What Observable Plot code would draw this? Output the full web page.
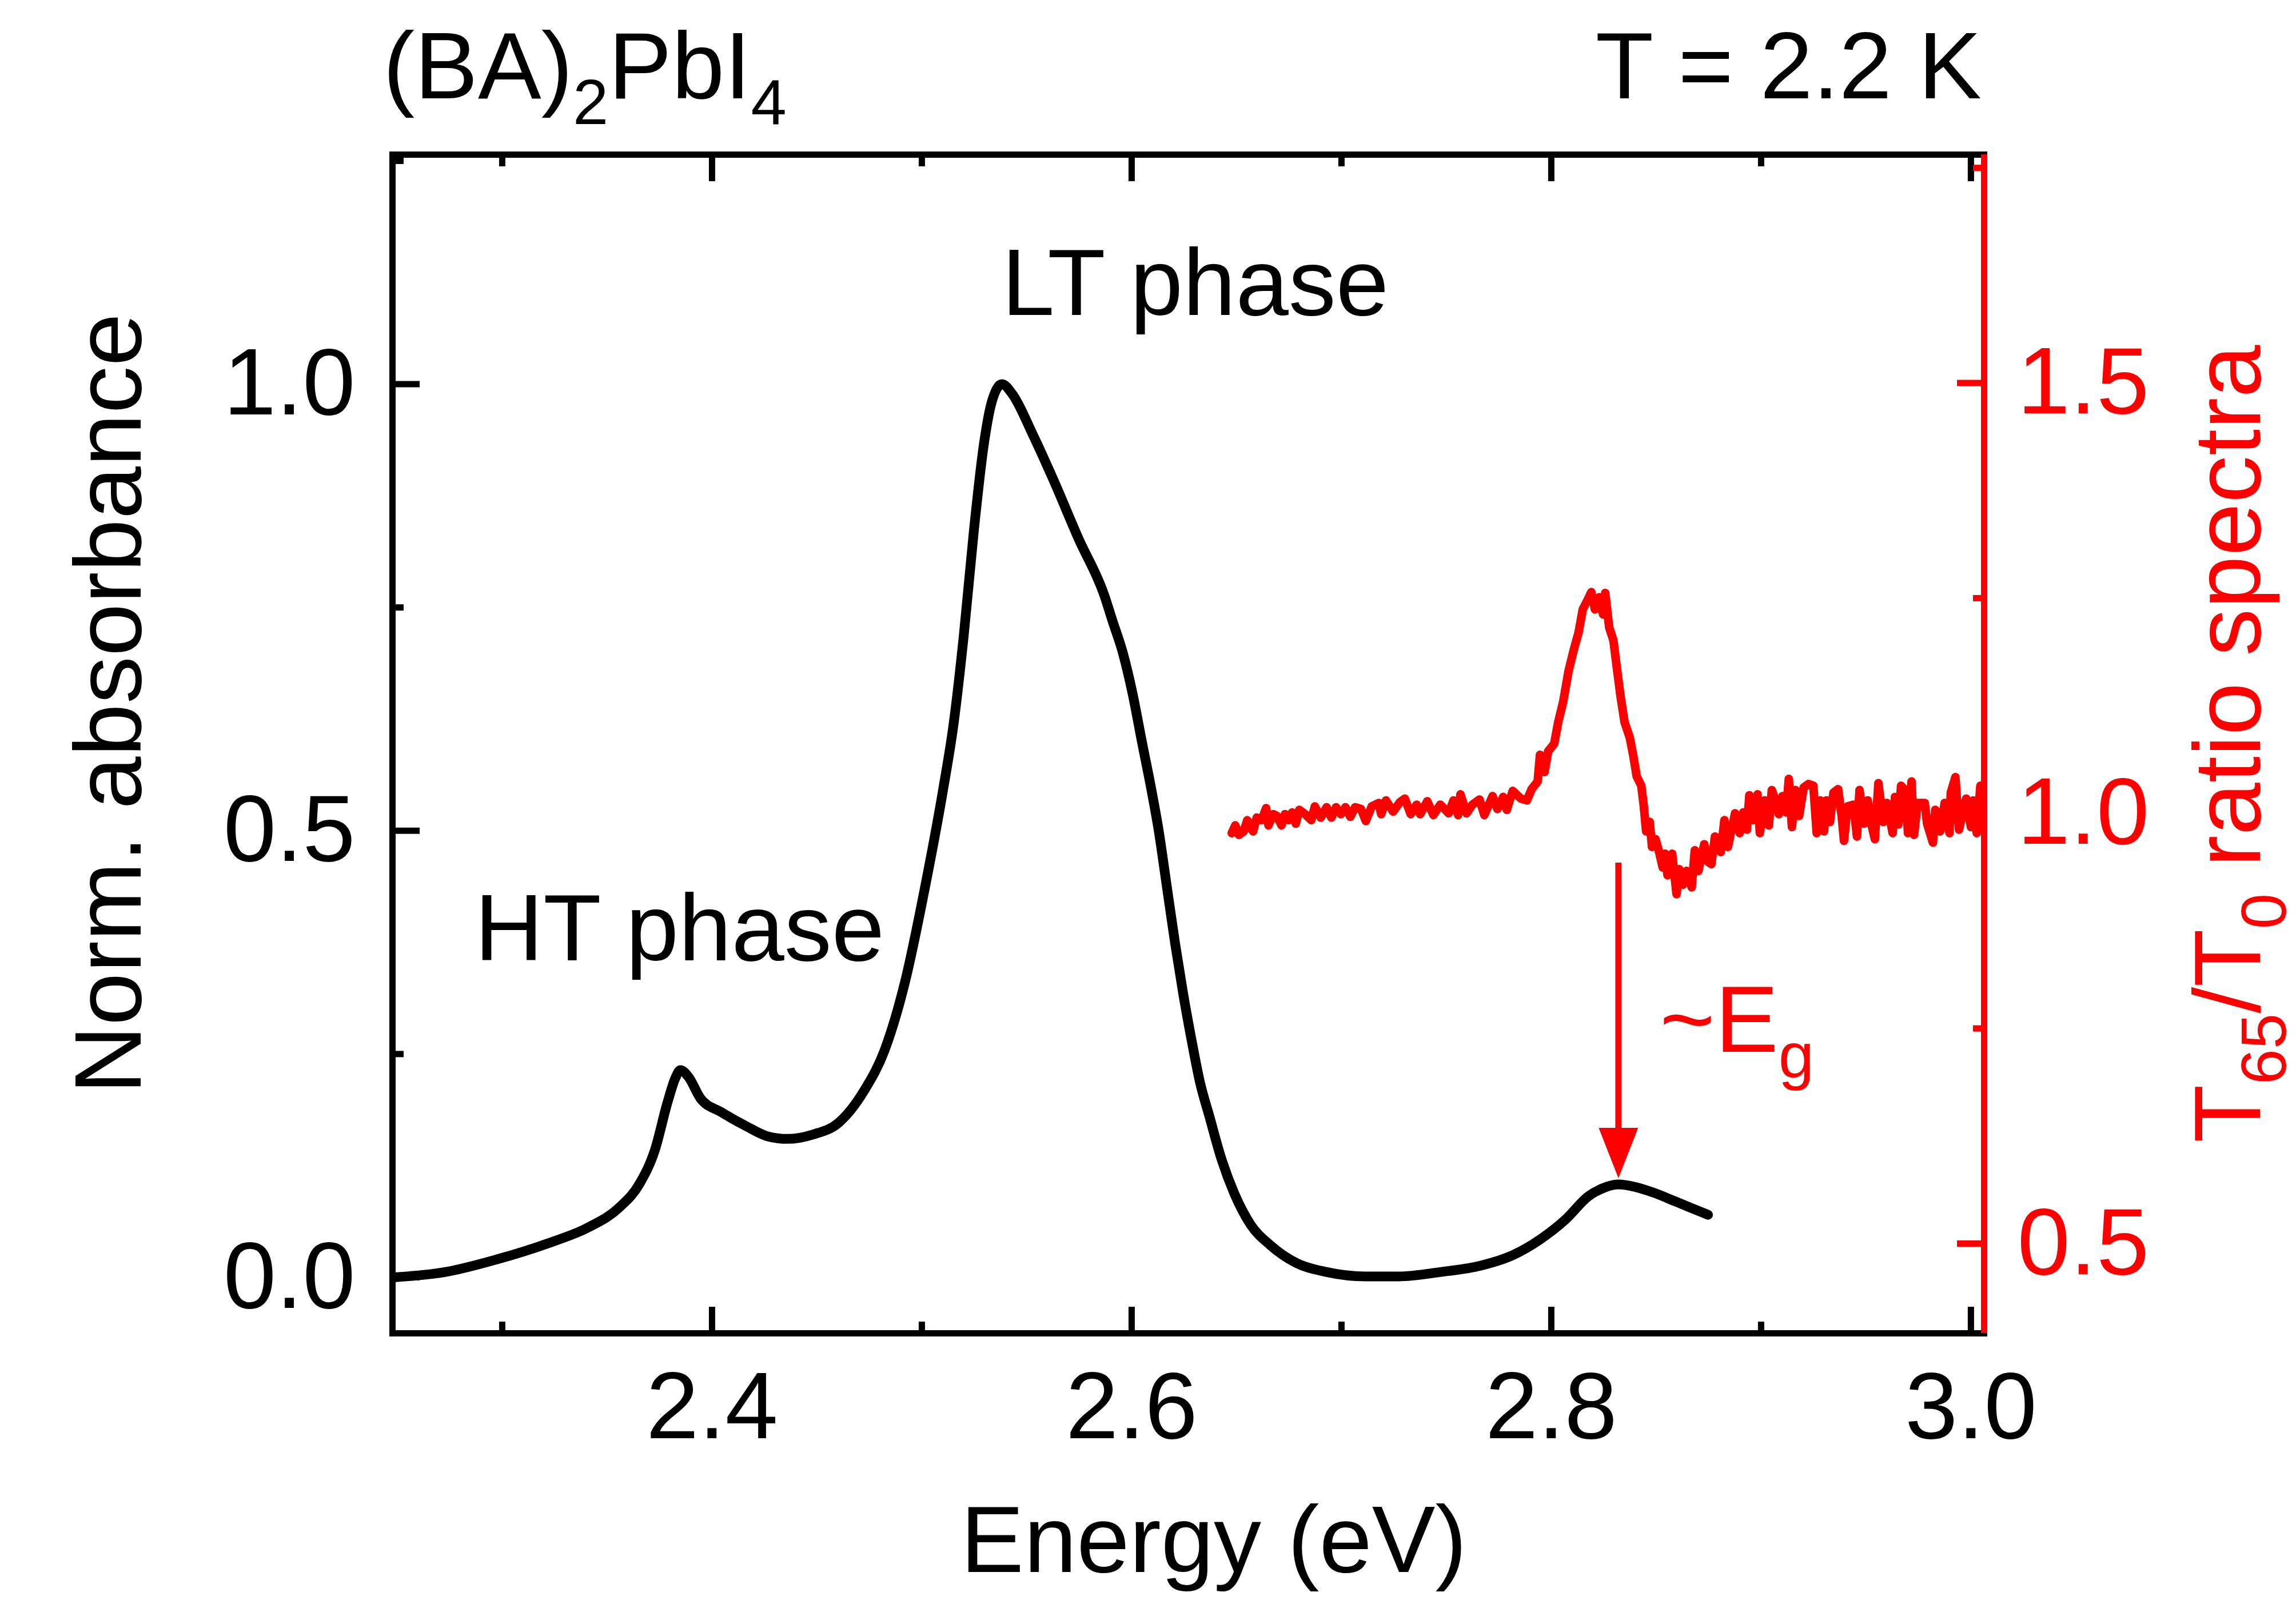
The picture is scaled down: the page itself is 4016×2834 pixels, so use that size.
<!DOCTYPE html>
<html>
<head>
<meta charset="utf-8">
<script src="https://cdn.jsdelivr.net/npm/d3@7"></script>
<script src="https://cdn.jsdelivr.net/npm/@observablehq/plot@0.6"></script>
<style>
  html, body { margin: 0; padding: 0; background: #fff; }
  svg { display: block; }
</style>
</head>
<body>
<div id="chart"></div>
<script>
// ---- data ----
// Norm. absorbance (left axis): [energy eV, value]
const absorbance = [
  [2.2487,0.000],[2.2730,0.006],[2.2973,0.020],[2.3217,0.038],[2.3411,0.056],[2.3557,0.078],
  [2.3655,0.105],[2.3727,0.142],[2.3788,0.196],[2.3825,0.223],[2.3849,0.232],[2.3886,0.225],
  [2.3946,0.200],[2.4044,0.185],[2.4165,0.169],[2.4263,0.158],[2.4360,0.155],[2.4482,0.160],
  [2.4603,0.173],[2.4725,0.209],[2.4822,0.254],[2.4920,0.331],[2.5017,0.439],[2.5102,0.547],
  [2.5151,0.619],[2.5200,0.719],[2.5248,0.836],[2.5297,0.935],[2.5333,0.980],[2.5382,1.000],
  [2.5431,0.989],[2.5528,0.944],[2.5625,0.894],[2.5747,0.827],[2.5869,0.764],[2.5910,0.734],
  [2.5957,0.700],[2.6004,0.654],[2.6051,0.597],[2.6090,0.551],[2.6129,0.500],[2.6168,0.437],
  [2.6207,0.374],[2.6246,0.317],[2.6286,0.265],[2.6325,0.219],[2.6372,0.179],[2.6426,0.134],
  [2.6489,0.094],[2.6567,0.059],[2.6661,0.036],[2.6786,0.016],[2.6927,0.006],[2.7115,0.001],
  [2.7271,0.001],[2.7474,0.006],[2.7662,0.013],[2.7818,0.025],[2.7944,0.042],[2.8069,0.065],
  [2.8178,0.091],[2.8238,0.099],[2.8319,0.104],[2.8403,0.101],[2.8485,0.095],[2.8591,0.085],
  [2.8695,0.075],[2.8747,0.070]
];

// T65/T0 ratio spectra (right axis): [energy eV, ratio]
const ratioSpectrum = [
  [2.6477,0.977],[2.6494,0.986],[2.6511,0.975],[2.6534,0.979],[2.6551,0.992],[2.6568,0.984],
  [2.6579,0.979],[2.6596,0.995],[2.6619,0.992],[2.6641,1.006],[2.6652,0.986],[2.6675,0.999],
  [2.6692,0.997],[2.6714,0.986],[2.6731,0.999],[2.6748,0.992],[2.6765,1.001],[2.6782,0.988],
  [2.6799,1.004],[2.6827,0.999],[2.6856,0.992],[2.6873,1.008],[2.6901,0.995],[2.6929,1.007],
  [2.6952,0.995],[2.6974,1.007],[2.6997,0.999],[2.7019,1.007],[2.7042,0.996],[2.7065,1.007],
  [2.7093,1.005],[2.7116,0.991],[2.7144,1.008],[2.7178,1.012],[2.7189,0.999],[2.7212,1.015],
  [2.7246,1.002],[2.7279,1.013],[2.7302,1.017],[2.7330,0.999],[2.7358,1.010],[2.7375,0.999],
  [2.7409,1.014],[2.7438,0.998],[2.7471,1.010],[2.7511,1.000],[2.7534,1.015],[2.7556,0.998],
  [2.7567,1.022],[2.7596,1.000],[2.7624,1.010],[2.7658,1.016],[2.7681,0.998],[2.7720,1.020],
  [2.7743,1.005],[2.7771,1.019],[2.7788,1.004],[2.7816,1.026],[2.7856,1.017],[2.7884,1.015],
  [2.7906,1.028],[2.7935,1.037],[2.7946,1.068],[2.7968,1.048],[2.7985,1.072],[2.8014,1.081],
  [2.8033,1.106],[2.8057,1.130],[2.8082,1.165],[2.8106,1.189],[2.8130,1.210],[2.8150,1.237],
  [2.8167,1.245],[2.8191,1.257],[2.8208,1.237],[2.8228,1.251],[2.8247,1.231],[2.8257,1.256],
  [2.8276,1.216],[2.8296,1.201],[2.8313,1.168],[2.8330,1.136],[2.8349,1.106],[2.8374,1.088],
  [2.8390,1.068],[2.8407,1.043],[2.8429,1.032],[2.8441,1.008],[2.8452,0.979],[2.8469,0.990],
  [2.8480,0.961],[2.8497,0.970],[2.8514,0.955],[2.8531,0.937],[2.8542,0.953],[2.8554,0.928],
  [2.8576,0.953],[2.8588,0.926],[2.8597,0.906],[2.8610,0.935],[2.8627,0.917],[2.8644,0.933],
  [2.8669,0.914],[2.8684,0.957],[2.8701,0.933],[2.8729,0.964],[2.8746,0.944],[2.8763,0.941],
  [2.8780,0.973],[2.8808,0.955],[2.8825,0.992],[2.8842,0.961],[2.8859,0.981],[2.8876,1.000],
  [2.8898,0.977],[2.8915,1.001],[2.8932,0.981],[2.8944,1.021],[2.8960,0.992],[2.8983,1.022],
  [2.8994,0.977],[2.9017,1.015],[2.9037,0.986],[2.9051,1.027],[2.9073,1.012],[2.9085,0.999],
  [2.9102,1.020],[2.9119,1.001],[2.9132,1.040],[2.9147,0.984],[2.9164,1.027],[2.9181,0.997],
  [2.9203,1.030],[2.9226,1.034],[2.9249,1.032],[2.9265,0.977],[2.9282,1.015],[2.9300,0.979],
  [2.9311,1.015],[2.9328,0.990],[2.9345,1.024],[2.9367,1.028],[2.9384,0.997],[2.9395,0.968],
  [2.9412,1.008],[2.9440,1.010],[2.9457,0.973],[2.9469,1.027],[2.9491,0.988],[2.9508,1.015],
  [2.9525,0.988],[2.9542,0.970],[2.9559,1.035],[2.9582,0.990],[2.9599,1.012],[2.9627,0.977],
  [2.9638,1.019],[2.9655,0.987],[2.9667,1.032],[2.9689,1.026],[2.9700,0.977],[2.9717,1.037],
  [2.9729,0.975],[2.9746,1.012],[2.9780,1.012],[2.9791,0.988],[2.9819,0.966],[2.9830,1.004],
  [2.9853,0.979],[2.9875,1.012],[2.9898,0.977],[2.9904,1.024],[2.9926,1.042],[2.9943,0.981],
  [2.9977,1.017],[3.0000,0.984],[3.0011,1.015],[3.0028,0.977],[3.0045,1.032]
];

const xMajorTicks = [2.4, 2.6, 2.8, 3.0];
const xMinorTicks = [2.3, 2.5, 2.7, 2.9];
const leftMajorTicks = [0.0, 0.5, 1.0];
const leftMinorTicks = [0.25, 0.75, 1.25];
const rightMajorTicks = [0.5, 1.0, 1.5];
const rightMinorTicks = [0.75, 1.25, 1.75];

const phaseLabels = [
  {text: "HT phase", energy: 2.2869, value: 0.3547},
  {text: "LT phase", energy: 2.5381, value: 1.0775}
];
const gapArrow = {energy: 2.832, top: 0.464, base: 0.167, tip: 0.111};
const gapLabel = {energy: 2.8518, value: 0.252};

const xDomain = [2.2477, 3.0063];
const yDomain = [-0.0627, 1.257];
// right axis (T65/T0) expressed in left-axis units
const rightToLeft = r => 0.0378 + (r - 0.5) * 0.9635;
const leftToRight = v => 0.5 + (v - 0.0378) / 0.9635;

const FONT = "'Liberation Sans', Arial, Helvetica, sans-serif";
const FS = 166;
const fmt = d3.format(".1f");

// downward filled arrow head, tip at the origin
const arrowHead = {
  draw(context) {
    context.moveTo(0, 0);
    context.lineTo(-34.5, -88);
    context.lineTo(34.5, -88);
    context.closePath();
  }
};

const plot = Plot.plot({
  width: 4016,
  height: 2834,
  marginTop: 270,
  marginBottom: 502,
  marginLeft: 686,
  marginRight: 546,
  style: {fontFamily: FONT, fontSize: FS + "px", background: "white", overflow: "visible"},
  x: {domain: xDomain, label: null},
  y: {domain: yDomain, label: null},
  marks: [
    Plot.frame({stroke: "black", strokeWidth: 11}),
    // bottom x axis
    Plot.axisX(xMajorTicks, {anchor: "bottom", tickSize: -46, tickPadding: 112, strokeWidth: 11, tickFormat: fmt, label: null}),
    Plot.axisX(xMinorTicks, {anchor: "bottom", tickSize: -20, strokeWidth: 11, tickFormat: () => "", label: null}),
    // top x ticks
    Plot.axisX(xMajorTicks, {anchor: "top", tickSize: -46, strokeWidth: 11, tickFormat: () => "", label: null}),
    Plot.axisX(xMinorTicks, {anchor: "top", tickSize: -20, strokeWidth: 11, tickFormat: () => "", label: null}),
    // left y axis
    Plot.axisY(leftMajorTicks, {anchor: "left", tickSize: -48, tickPadding: 113, strokeWidth: 11, tickFormat: fmt, label: null}),
    Plot.axisY(leftMinorTicks, {anchor: "left", tickSize: -20, strokeWidth: 11, tickFormat: () => "", label: null}),
    // right (red) y axis
    Plot.axisY(rightMajorTicks.map(rightToLeft), {anchor: "right", tickSize: -48, tickPadding: 106, strokeWidth: 11, color: "red", tickFormat: v => fmt(leftToRight(v)), label: null}),
    Plot.axisY(rightMinorTicks.map(rightToLeft), {anchor: "right", tickSize: -20, strokeWidth: 11, color: "red", tickFormat: () => "", label: null}),
    // curves
    Plot.line(absorbance, {x: d => d[0], y: d => d[1], stroke: "black", strokeWidth: 17, curve: "monotone-x", strokeLinejoin: "round", strokeLinecap: "round"}),
    Plot.line(ratioSpectrum, {x: d => d[0], y: d => rightToLeft(d[1]), stroke: "red", strokeWidth: 15, strokeLinejoin: "round", strokeLinecap: "round", clip: true}),
    // red right axis line
    Plot.ruleX([xDomain[1]], {stroke: "red", strokeWidth: 11}),
    // arrow ~Eg
    Plot.ruleX([gapArrow], {x: "energy", y1: "top", y2: "base", stroke: "red", strokeWidth: 11}),
    Plot.dot([gapArrow], {x: "energy", y: "tip", symbol: arrowHead, r: 10, fill: "red", stroke: "none"}),
    // phase labels
    Plot.text(phaseLabels, {x: "energy", y: "value", text: "text", textAnchor: "start", lineAnchor: "bottom", fontSize: FS, fill: "black"})
  ]
});

document.getElementById("chart").appendChild(plot);

// ---- texts with subscripts ----
const svg = d3.select(plot);
function richText(parent, parts, attrs) {
  const t = parent.append("text")
    .attr("font-family", FONT)
    .attr("font-size", FS);
  for (const [k, v] of Object.entries(attrs)) t.attr(k, v);
  let shift = 0;
  for (const p of parts) {
    const target = p.sub ? 45 : 0;
    const ts = t.append("tspan").text(p.t).attr("font-size", p.sub ? 112 : FS);
    if (target !== shift) { ts.attr("dy", target - shift); shift = target; }
  }
  return t;
}

// title, top-left
richText(svg, [{t: "(BA)"}, {t: "2", sub: true}, {t: "PbI"}, {t: "4", sub: true}],
  {x: 670, y: 172, fill: "black", "text-anchor": "start"});
// temperature, top-right
richText(svg, [{t: "T = 2.2 K"}], {x: 3466, y: 172, fill: "black", "text-anchor": "end"});
// x label
richText(svg, [{t: "Energy (eV)"}], {x: 2123, y: 2750, fill: "black", "text-anchor": "middle"});
// left y label
const gl = svg.append("g").attr("transform", "translate(246,1231) rotate(-90)");
richText(gl, [{t: "Norm. absorbance"}], {x: 0, y: 0, fill: "black", "text-anchor": "middle"});
// right y label
const gr = svg.append("g").attr("transform", "translate(3953,1301) rotate(-90)");
richText(gr, [{t: "T"}, {t: "65", sub: true}, {t: "/T"}, {t: "0", sub: true}, {t: " ratio spectra"}],
  {x: 0, y: 0, fill: "red", "text-anchor": "middle"});
// ~Eg label
const sx = plot.scale("x"), sy = plot.scale("y");
richText(svg, [{t: "~E"}, {t: "g", sub: true}],
  {x: sx.apply(gapLabel.energy), y: sy.apply(gapLabel.value), fill: "red", "text-anchor": "start"});
</script>
</body>
</html>
